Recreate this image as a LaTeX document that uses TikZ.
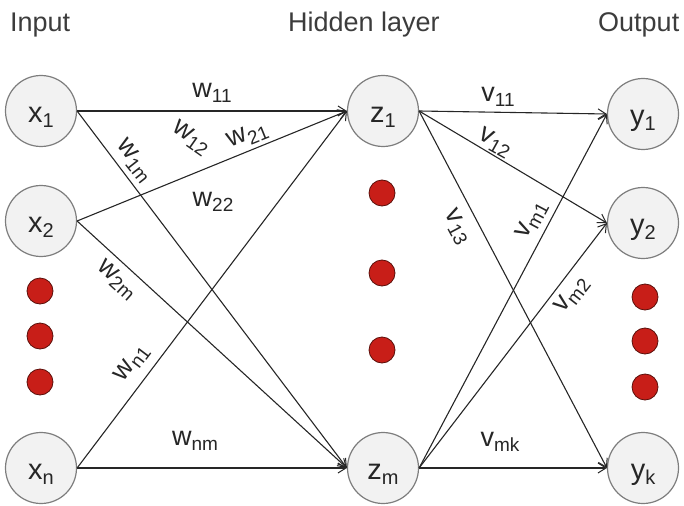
\documentclass[tikz,border=0pt]{standalone}
\usepackage{fontspec}
\setmainfont{Liberation Sans}
\usetikzlibrary{arrows.meta}
\definecolor{dotred}{RGB}{200,30,24}
\definecolor{dotedge}{RGB}{90,15,10}
\definecolor{nodefill}{RGB}{242,242,242}
\definecolor{nodeedge}{RGB}{125,125,125}
\definecolor{titlegray}{RGB}{60,60,60}
\newcommand{\sbs}[1]{\raisebox{-5pt}{\fontsize{19}{19}\selectfont #1}}
\newcommand{\nsbs}[1]{\raisebox{-5pt}{\fontsize{20}{20}\selectfont #1}}
\begin{document}
\begin{tikzpicture}[x=1pt,y=-1pt,
  neuron/.style={circle, draw=nodeedge, line width=1.2pt, fill=nodefill, minimum size=71pt, inner sep=0pt, font=\fontsize{29}{29}\selectfont, text height=23pt, text depth=0pt, text=black!85},
  reddot/.style={circle, draw=dotedge, line width=0.8pt, fill=dotred, minimum size=26pt, inner sep=0pt},
  conn/.style={line width=1.1pt, draw=black!85, -{Straight Barb[length=8pt,width=10pt,line width=1pt]}},
  wlabel/.style={font=\fontsize{27}{27}\selectfont, inner sep=0pt, text=black!85},
  title/.style={font=\fontsize{27}{27}\selectfont, text=titlegray, inner sep=0pt, anchor=base west}]
\useasboundingbox (0,0) rectangle (684,505);

% titles
\node[title] (tin) at (10,32) {Input};
\node[title] (thid) at (288,32) {Hidden layer};
\node[title] (tout) at (598,32) {Output};

% neurons
\node[neuron] (x1) at (41,111) {x\nsbs{1}};
\node[neuron] (x2) at (41,221) {x\nsbs{2}};
\node[neuron] (xn) at (41,468) {x\nsbs{n}};
\node[neuron] (z1) at (383,111) {z\nsbs{1}};
\node[neuron] (zm) at (383,468) {z\nsbs{m}};
\node[neuron] (y1) at (643,114) {y\nsbs{1}};
\node[neuron] (y2) at (643,223) {y\nsbs{2}};
\node[neuron] (yk) at (643,468) {y\nsbs{k}};

% ellipsis dots
\node[reddot] (dl1) at (40,291) {};
\node[reddot] (dl2) at (40,336) {};
\node[reddot] (dl3) at (40,382) {};
\node[reddot] (dm1) at (382,193) {};
\node[reddot] (dm2) at (382,273) {};
\node[reddot] (dm3) at (382,350) {};
\node[reddot] (dr1) at (645,297) {};
\node[reddot] (dr2) at (645,341) {};
\node[reddot] (dr3) at (645,387) {};

% connectors input -> hidden
\draw[conn] (x1.east) -- (z1.west);
\draw[conn] (x1.east) -- (zm.west);
\draw[conn] (x2.east) -- (z1.west);
\draw[conn] (x2.east) -- (zm.west);
\draw[conn] (xn.east) -- (z1.west);
\draw[conn] (xn.east) -- (zm.west);
% connectors hidden -> output
\draw[conn] (z1.east) -- (y1.west);
\draw[conn] (z1.east) -- (y2.west);
\draw[conn] (z1.east) -- (yk.west);
\draw[conn] (zm.east) -- (y1.west);
\draw[conn] (zm.east) -- (y2.west);
\draw[conn] (zm.east) -- (yk.west);

% weight labels
\node[wlabel] (lw11) at (212,93) {w\sbs{11}};
\node[wlabel, rotate=-35] (lw12) at (191,138) {w\sbs{12}};
\node[wlabel, rotate=-52] (lw1m) at (134,161) {w\sbs{1m}};
\node[wlabel, rotate=22] (lw21) at (248,136) {w\sbs{21}};
\node[wlabel] (lw22) at (213,202) {w\sbs{22}};
\node[wlabel, rotate=-42] (lw2m) at (117,280) {w\sbs{2m}};
\node[wlabel, rotate=53] (lwn1) at (132,363) {w\sbs{n1}};
\node[wlabel] (lwnm) at (195,441) {w\sbs{nm}};
\node[wlabel] (lv11) at (498,97) {v\sbs{11}};
\node[wlabel, rotate=-29] (lv12) at (495,143) {v\sbs{12}};
\node[wlabel, rotate=-62] (lv13) at (457,227) {v\sbs{13}};
\node[wlabel, rotate=62] (lvm1) at (532,220) {v\sbs{m1}};
\node[wlabel, rotate=52] (lvm2) at (572,295) {v\sbs{m2}};
\node[wlabel] (lvmk) at (500,442) {v\sbs{mk}};
\end{tikzpicture}
\end{document}
